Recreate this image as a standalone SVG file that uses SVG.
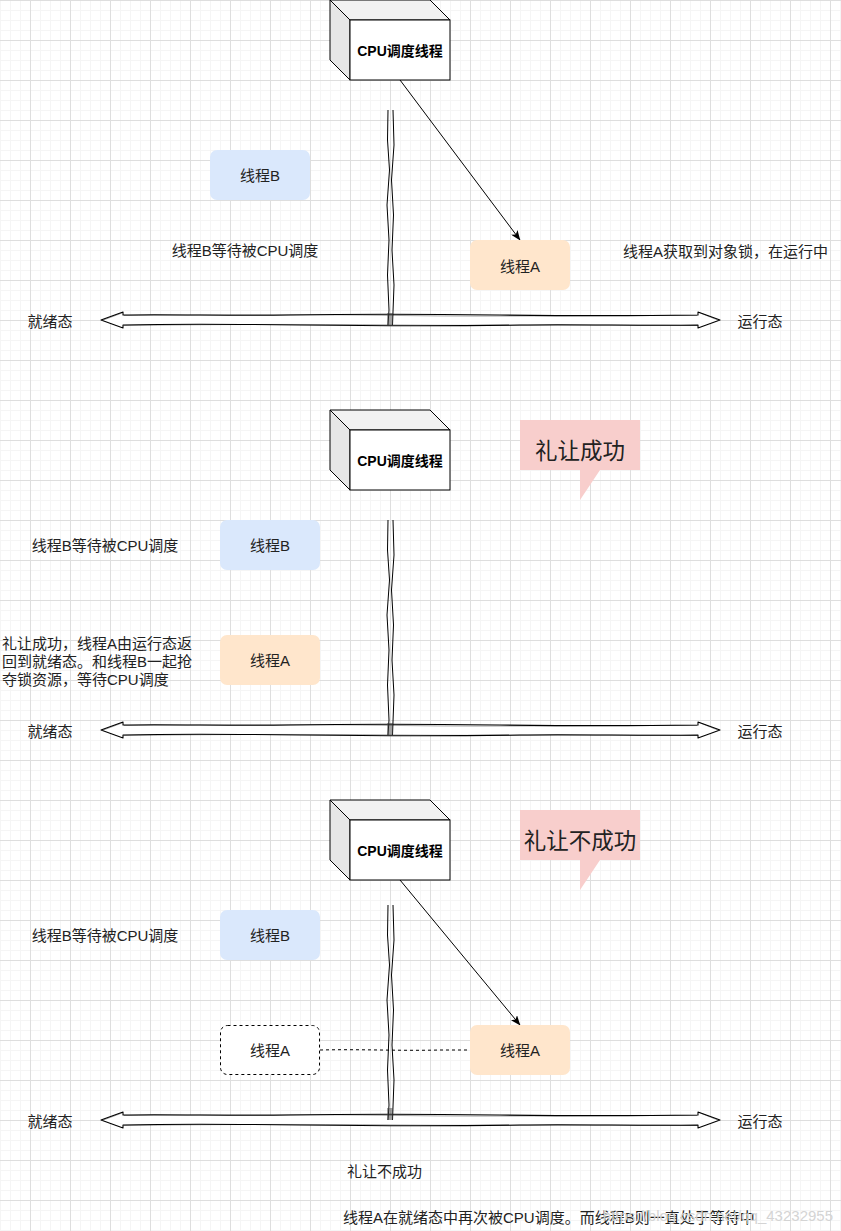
<svg xmlns="http://www.w3.org/2000/svg" width="841" height="1231" viewBox="0 0 841 1231">
<style>
text{font-family:"Liberation Sans","Noto Sans CJK SC",sans-serif;font-size:15px;fill:#222;dominant-baseline:central}
.mid{text-anchor:middle}
.bold{font-weight:bold;font-size:14px;fill:#000}
.big{font-size:22.5px;text-anchor:middle}
.front{fill:#fff;stroke:#000;stroke-width:1}
.top{fill:#f2f2f2;stroke:#000;stroke-width:1}
.side{fill:#e6e6e6;stroke:#000;stroke-width:1}
.blue{fill:#dae8fc}
.orange{fill:#ffe6cc}
.dash{fill:#fff;stroke:#000;stroke-dasharray:3 3}
.callout{fill:#f8cecc}
.flex{fill:#fff;stroke:#000;stroke-width:1.1;stroke-linejoin:round}
.flex2{fill:none;stroke:#000;stroke-width:0.6;opacity:0.6}
.link{fill:none;stroke:#000;stroke-width:1}
.edge{fill:none;stroke:#000;stroke-width:1}
.dline{fill:none;stroke:#000;stroke-dasharray:3 3}
.wm{fill:#d4d4d4;font-size:15px;dominant-baseline:central}
</style>
<defs>
<pattern id="minor" width="10" height="10" patternUnits="userSpaceOnUse">
<rect x="0" y="0" width="10" height="1" fill="#f5f5f5"/>
<rect x="0" y="0" width="1" height="10" fill="#f5f5f5"/>
</pattern>
<pattern id="major" x="30" y="0" width="40" height="40" patternUnits="userSpaceOnUse">
<rect x="0" y="0" width="40" height="1" fill="#dedede"/>
<rect x="0" y="0" width="1" height="40" fill="#dedede"/>
</pattern>
<marker id="arr" viewBox="0 0 10 8" refX="9.5" refY="4" markerWidth="10" markerHeight="8" markerUnits="userSpaceOnUse" orient="auto">
<path d="M0,0 L10,4 L0,8 L2.5,4 Z" fill="#000"/>
</marker>
<path id="flexArrow" class="flex" d="M101,0 L123,-8 L123,-5 C170,-6 230,-4 290,-5 S420,-6 500,-5 S630,-4 698,-5 L698,-8 L720,0 L698,8 L698,5 C640,6 580,4 520,5 S380,6 300,5 S170,4 123,5 L123,8 Z"/>
<path id="flexArrow2" class="flex2" d="M102,0.5 L122,-7 M124,-4.5 C200,-5 300,-6 400,-4.5 S600,-5 697,-4.5 M699,-7.5 L719,0.5 M697,5.5 C600,4.5 500,6 400,5 S200,4.5 124,5.5"/>
<g id="linkShape">
<path class="link" d="M388,0 L387.5,30 L389.5,60 L387,95 L389,130 L387.5,165 L389,200 L388,215"/>
<path class="link" d="M393,0 L394,35 L391.5,70 L393.5,105 L392,140 L394,175 L392.5,215"/>
<path d="M387,203 L393,203 L393,215 L387,215 Z" fill="#444" opacity="0.5"/>
</g>
</defs>
<rect width="841" height="1231" fill="#fff"/>
<rect width="841" height="1231" fill="url(#minor)"/>
<rect width="841" height="1231" fill="url(#major)"/>

<g id="connectors">
<line class="edge" x1="400" y1="80" x2="520" y2="240" marker-end="url(#arr)"/>
<line class="edge" x1="400" y1="880" x2="520" y2="1025" marker-end="url(#arr)"/>
<path class="dline" d="M320,1050 C360,1049 400,1051 440,1050 L470,1050"/>
</g>

<!-- Section 1 -->
<g id="axis1">
<use href="#flexArrow" transform="translate(0,320)"/>
<use href="#flexArrow2" transform="translate(0,320)"/>
<use href="#linkShape" transform="translate(0,110)"/>
<text x="50" y="321" class="mid">就绪态</text>
<text x="760" y="321" class="mid">运行态</text>
</g>
<g id="cpu1">
<polygon class="top" points="330,0 430,0 450,20 350,20"/>
<polygon class="side" points="330,0 350,20 350,80 330,60"/>
<rect class="front" x="350" y="20" width="100" height="60"/>
<text x="400" y="51" class="mid bold">CPU调度线程</text>
</g>
<g id="threadB1">
<rect class="blue" x="210" y="150" width="100" height="50" rx="7"/>
<text x="260" y="175" class="mid">线程B</text>
</g>
<g id="labelB1"><text x="245" y="250" class="mid">线程B等待被CPU调度</text></g>
<g id="threadA1">
<rect class="orange" x="470" y="240" width="100" height="50" rx="7"/>
<text x="520" y="266" class="mid">线程A</text>
</g>
<g id="labelA1"><text x="623" y="251">线程A获取到对象锁，在运行中</text></g>

<!-- Section 2 -->
<g id="axis2">
<use href="#flexArrow" transform="translate(0,730)"/>
<use href="#flexArrow2" transform="translate(0,730)"/>
<use href="#linkShape" transform="translate(0,520)"/>
<text x="50" y="731" class="mid">就绪态</text>
<text x="760" y="731" class="mid">运行态</text>
</g>
<g id="cpu2">
<polygon class="top" points="330,410 430,410 450,430 350,430"/>
<polygon class="side" points="330,410 350,430 350,490 330,470"/>
<rect class="front" x="350" y="430" width="100" height="60"/>
<text x="400" y="461" class="mid bold">CPU调度线程</text>
</g>
<g id="callout1">
<polygon class="callout" points="520,420 640,420 640,470 600,470 580,500 580,470 520,470"/>
<text x="580" y="451" class="big">礼让成功</text>
</g>
<g id="threadB2">
<rect class="blue" x="220" y="520" width="100" height="50" rx="7"/>
<text x="270" y="545" class="mid">线程B</text>
</g>
<g id="labelB2"><text x="105" y="545" class="mid">线程B等待被CPU调度</text></g>
<g id="threadA2">
<rect class="orange" x="220" y="635" width="100" height="50" rx="7"/>
<text x="270" y="660" class="mid">线程A</text>
</g>
<g id="labelA2">
<text x="2" y="643">礼让成功，线程A由运行态返</text>
<text x="2" y="661">回到就绪态。和线程B一起抢</text>
<text x="2" y="679">夺锁资源，等待CPU调度</text>
</g>

<!-- Section 3 -->
<g id="axis3">
<use href="#flexArrow" transform="translate(0,1120)"/>
<use href="#flexArrow2" transform="translate(0,1120)"/>
<use href="#linkShape" transform="translate(0,905)"/>
<text x="50" y="1121" class="mid">就绪态</text>
<text x="760" y="1121" class="mid">运行态</text>
</g>
<g id="cpu3">
<polygon class="top" points="330,800 430,800 450,820 350,820"/>
<polygon class="side" points="330,800 350,820 350,880 330,860"/>
<rect class="front" x="350" y="820" width="100" height="60"/>
<text x="400" y="851" class="mid bold">CPU调度线程</text>
</g>
<g id="callout2">
<polygon class="callout" points="520,810 640,810 640,860 600,860 580,890 580,860 520,860"/>
<text x="580" y="841" class="big">礼让不成功</text>
</g>
<g id="threadB3">
<rect class="blue" x="220" y="910" width="100" height="50" rx="7"/>
<text x="270" y="935" class="mid">线程B</text>
</g>
<g id="labelB3"><text x="105" y="935" class="mid">线程B等待被CPU调度</text></g>
<g id="threadAold">
<rect class="dash" x="220.5" y="1025.5" width="99" height="49" rx="7"/>
<text x="270" y="1050" class="mid">线程A</text>
</g>
<g id="threadA3">
<rect class="orange" x="470" y="1025" width="100" height="50" rx="7"/>
<text x="520" y="1050" class="mid">线程A</text>
</g>
<g id="labelFail"><text x="347" y="1171">礼让不成功</text></g>
<g id="labelBottom"><text x="343" y="1217">线程A在就绪态中再次被CPU调度。而线程B则一直处于等待中</text></g>
<text x="833" y="1215" class="wm" text-anchor="end">https://blog.csdn.net/qq_43232955</text>
</svg>
